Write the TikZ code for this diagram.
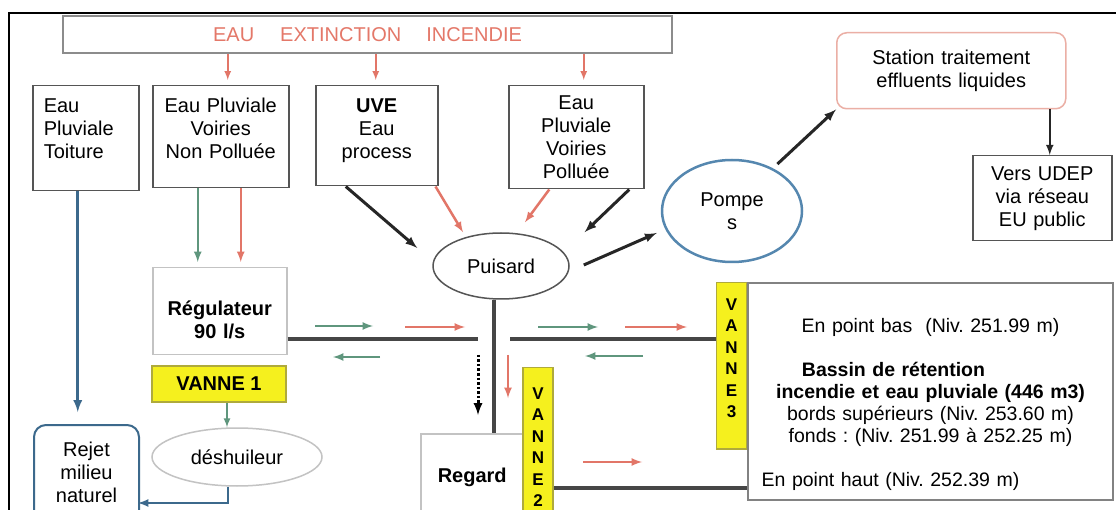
\documentclass[tikz,border=0pt]{standalone}
\usepackage{fontspec}
\setmainfont{Liberation Sans}
\frenchspacing
\usetikzlibrary{positioning, arrows, shapes.geometric}

\definecolor{boxgray}{RGB}{85,85,85}
\definecolor{lightgray}{RGB}{195,195,195}
\definecolor{bassingray}{RGB}{130,130,130}
\definecolor{pipegray}{RGB}{70,70,70}
\definecolor{flowred}{RGB}{226,118,104}
\definecolor{flowgreen}{RGB}{95,150,125}
\definecolor{bluepipe}{RGB}{60,105,140}
\definecolor{pompeblue}{RGB}{85,135,175}
\definecolor{stationred}{RGB}{235,175,165}
\definecolor{bannerred}{RGB}{228,120,105}
\definecolor{bannergray}{RGB}{140,140,140}
\definecolor{vyellow}{RGB}{245,240,30}
\definecolor{vborder}{RGB}{175,170,60}

\begin{document}
\begin{tikzpicture}
	[x=1pt, y=-1pt, >=latex,
	 font=\fontsize{20}{23}\selectfont,
	 box/.style={draw=boxgray, line width=1.5pt, inner xsep=0pt, align=center, text height=15pt},
	 boldtxt/.style={font=\fontsize{20}{23}\selectfont\bfseries},
	 vanne/.style={draw=vborder, fill=vyellow, line width=1.5pt, inner xsep=0pt, align=center},
	 vletters/.style={font=\fontsize{17}{21.5}\selectfont\bfseries, text width=30pt, text height=13pt},
	 pipe/.style={draw=pipegray, line width=3.5pt},
	 redflow/.style={->, draw=flowred, line width=2.5pt},
	 greenflow/.style={->, draw=flowgreen, line width=2.5pt},
	 blackflow/.style={->, draw=black!85, line width=3pt}]
   \useasboundingbox (0,0) rectangle (1116,510);
   \fill[white] (0,0) rectangle (1116,510);
   \clip (0,0) rectangle (1116,510);
   \draw[line width=1.5pt] (9,540) -- (9,13) -- (1140,13);

   % top row
   \node[draw=bannergray, line width=2.5pt, minimum width=609pt, minimum height=37pt, text=bannerred] (banner) at (367.5,34.5)
      {EAU\hspace{26pt}EXTINCTION\hspace{25pt}INCENDIE};
   \node[box, anchor=north west, align=left, inner xsep=11pt, text width=84pt, inner ysep=12pt, text depth=66pt] (toiture) at (32,85) {Eau\\Pluviale\\Toiture};
   \node[box, anchor=north west, text width=136pt, inner ysep=12pt, text depth=63pt] (np) at (152,85) {Eau Pluviale\\Voiries\\Non Polluée};
   \node[box, anchor=north west, text width=122pt, inner ysep=12pt, text depth=61pt] (uve) at (315,85) {\textbf{UVE}\\Eau\\process};
   \node[box, anchor=north west, text width=135pt, inner ysep=9pt, text depth=70pt] (poll) at (508,85) {Eau\\Pluviale\\Voiries\\Polluée};
   \node[box, draw=stationred, rounded corners=10pt, anchor=north west, text width=229pt, inner ysep=17pt, text depth=27pt] (station) at (836,32) {Station traitement\\effluents liquides};
   \node[box, anchor=north west, text width=139pt, inner ysep=10pt, text depth=50pt] (udep) at (972,155) {Vers UDEP\\via réseau\\EU public};

   % middle
   \node[ellipse, draw=boxgray, line width=1.5pt, minimum width=136pt, minimum height=66pt, inner sep=0pt] (puisard) at (501,266) {Puisard};
   \node[ellipse, draw=pompeblue, line width=2.5pt, minimum width=140pt, minimum height=102pt, inner sep=0pt, align=center] (pompes) at (732,211) {Pompe\\s};
   \node[box, boldtxt, draw=lightgray, anchor=north west, text width=134pt, inner ysep=33pt, text depth=6pt] (reg) at (152,267) {Régulateur\\90 l/s};
   \node[vanne, boldtxt, minimum width=134pt, minimum height=36pt] (vanne1) at (219,384) {VANNE 1};
   \node[ellipse, draw=lightgray, line width=1.5pt, minimum width=170pt, minimum height=58pt, inner sep=0pt] (desh) at (237,457) {déshuileur};
   \node[box, draw=bluepipe, line width=2pt, rounded corners=12pt, anchor=north west, text width=105pt, inner ysep=16pt, text depth=69pt] (rejet) at (33,424) {Rejet\\milieu\\naturel};
   \node[box, boldtxt, draw=lightgray, anchor=north west, text width=103pt, inner ysep=34pt, text depth=27pt] (regard) at (420,433) {Regard};
   \node[vanne, vletters, anchor=north, inner ysep=18.5pt, text depth=150pt] (vanne2) at (538,367) {V\\A\\N\\N\\E\\2};
   \node[box, draw=bassingray, line width=2pt, anchor=north west, text width=365pt, inner ysep=35pt, text depth=132pt,
         font=\fontsize{19.5}{22}\selectfont] (bassin) at (747,282)
      {En point bas\ \ (Niv. 251.99 m)\\[22pt]
       \textbf{Bassin de rétention}\hspace*{74pt}\null\\
       \textbf{incendie et eau pluviale (446 m3)}\\
       bords supérieurs (Niv. 253.60 m)\\
       fonds : (Niv. 251.99 à 252.25 m)\\[22pt]
       En point haut (Niv. 252.39 m)\hspace*{80pt}\null};
   \node[vanne, vletters, anchor=north, inner ysep=14.5pt, text depth=124pt] (vanne3) at (731.5,282) {V\\A\\N\\N\\E\\3};

   % pipes
   \coordinate (lpipe) at (478,339);
   \coordinate (rpipe) at (510,339);
   \coordinate (lowpipe) at (600,488);
   \coordinate (rejetin) at (138,503);
   \draw[pipe] (reg.east |- lpipe) -- (lpipe);
   \draw[pipe] (rpipe) -- (rpipe -| vanne3.west);
   \draw[pipe] ([xshift=-7pt]puisard.south) -- ([xshift=-7pt]puisard.south |- regard.north);
   \draw[pipe] (lowpipe -| vanne2.east) -- (lowpipe -| bassin.west);

   % arrows between boxes
   \draw[redflow, line width=2pt, shorten >=5pt] ([xshift=7pt]np.north |- banner.south) -- ([xshift=7pt]np.north);
   \draw[redflow, line width=2pt, shorten >=5pt] ([xshift=-1pt]uve.north |- banner.south) -- ([xshift=-1pt]uve.north);
   \draw[redflow, line width=2pt, shorten >=5pt] ([xshift=7.5pt]poll.north |- banner.south) -- ([xshift=7.5pt]poll.north);
   \draw[->, draw=bluepipe, line width=3pt, shorten >=12pt] ([xshift=-8pt]toiture.south) -- ([xshift=-8pt]toiture.south |- rejet.north);
   \draw[greenflow, shorten >=5pt] ([xshift=-23pt]np.south) -- ([xshift=-23pt]np.south |- reg.north);
   \draw[redflow, shorten >=5pt] ([xshift=20pt]np.south) -- ([xshift=20pt]np.south |- reg.north);
   \draw[greenflow, line width=2pt] ([xshift=8pt]vanne1.south) -- ([xshift=8pt]vanne1.south |- desh.north);
   \draw[->, draw=bluepipe, line width=2.5pt] ([xshift=-9pt]desh.south) |- (rejetin);
   \draw[blackflow] ([xshift=-31pt]uve.south) -- ([shift={(-15,-18)}]puisard.west);
   \draw[redflow] ([xshift=-3pt]uve.south east) -- ([xshift=-38pt]puisard.north);
   \draw[redflow] ([xshift=-27pt]poll.south) -- ([shift={(24,-10)}]puisard.north);
   \draw[blackflow] ([xshift=53pt]poll.south) -- ([shift={(35,-10)}]puisard.north east);
   \draw[blackflow] ([shift={(14,-1)}]puisard.east) -- ([shift={(-4,22)}]pompes.west);
   \draw[blackflow] ([shift={(-5,-10)}]pompes.north east) -- (station.south west);
   \draw[blackflow, line width=2.4pt] ([xshift=7.5pt]udep.north |- station.south) -- ([xshift=7.5pt]udep.north);

   % flow directions along the pipes
   \coordinate (ga1) at (315,326); \coordinate (gb1) at (373,326);
   \coordinate (ga2) at (380,357); \coordinate (gb2) at (333,357);
   \coordinate (ra1) at (405,327); \coordinate (rb1) at (465,327);
   \coordinate (ga3) at (538,327); \coordinate (gb3) at (598,327);
   \coordinate (ra2) at (625,327); \coordinate (rb2) at (687,327);
   \coordinate (ga4) at (643,356); \coordinate (gb4) at (585,356);
   \coordinate (ra3) at (508,355); \coordinate (rb3) at (508,398);
   \coordinate (ra4) at (583,462); \coordinate (rb4) at (642,462);
   \coordinate (da) at (478,355); \coordinate (db) at (478,415);
   \draw[greenflow] (ga1) -- (gb1);
   \draw[greenflow] (ga2) -- (gb2);
   \draw[redflow] (ra1) -- (rb1);
   \draw[greenflow] (ga3) -- (gb3);
   \draw[redflow] (ra2) -- (rb2);
   \draw[greenflow] (ga4) -- (gb4);
   \draw[redflow] (ra3) -- (rb3);
   \draw[redflow] (ra4) -- (rb4);
   \draw[->, line width=3pt, dash pattern=on 2.5pt off 2pt] (da) -- (db);
\end{tikzpicture}
\end{document}
